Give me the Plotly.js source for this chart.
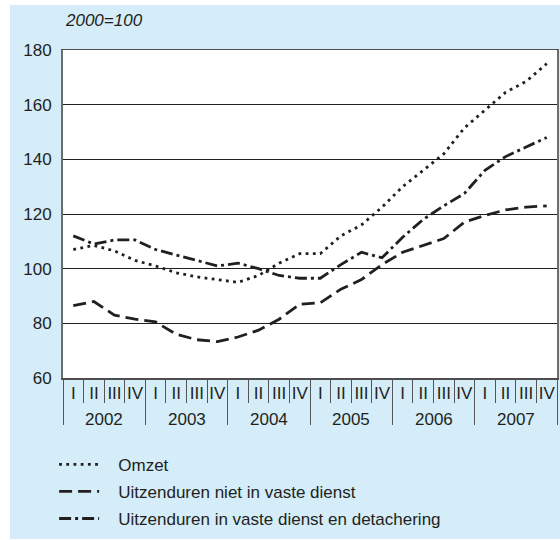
<!DOCTYPE html>
<html>
<head>
<meta charset="utf-8">
<script src="https://cdn.plot.ly/plotly-3.0.1.min.js"></script>
<style>
  html, body { margin: 0; padding: 0; background: #ffffff; }
  #chart { position: absolute; left: 10px; top: 5px; width: 550px; height: 534px; }
</style>
</head>
<body>
<div id="chart"></div>
<script>
// ---- data ----
const years = ['2002', '2003', '2004', '2005', '2006', '2007'];
const quarters = ['I', 'II', 'III', 'IV'];

const omzet = [107, 108.5, 106.5, 103, 101, 98.5, 97, 96, 95, 97.5, 102, 105.5,
               105.5, 112, 116, 122.5, 130, 136, 142, 151.5, 158, 164.5, 168.5, 175];
const nietVast = [86.5, 88, 83, 81.5, 80.5, 76, 74, 73.3, 75, 77.5, 81.5, 87,
                  87.5, 92.5, 96, 101.5, 106, 108.5, 111, 117, 119.5, 121.5, 122.5, 123];
const vastDetach = [112, 109, 110.5, 110.5, 107, 105, 103, 101, 102, 100, 97.5, 96.5,
                    96.5, 101.5, 106, 104, 111.5, 118, 123, 127.5, 136, 141, 144.5, 148];

const seriesNames = ['Omzet', 'Uitzenduren niet in vaste dienst',
                     'Uitzenduren in vaste dienst en detachering'];
const yTicks = [60, 80, 100, 120, 140, 160, 180];

// ---- derived positions (quarter index along the axis) ----
const xIdx = omzet.map((_, i) => i);
const qLabels = xIdx.map(i => quarters[i % 4]);
const qBounds = xIdx.map(i => i - 0.5).concat([xIdx.length - 0.5]);
const yBounds = years.map((_, j) => j * 4 - 0.5).concat([years.length * 4 - 0.5]);
const yCenters = years.map((_, j) => j * 4 + 1.5);

const FONT = 'Liberation Sans, Arial, Helvetica, sans-serif';
const INK = '#231f20';
const BLUE = '#d4edf9';
const FS = 17;
const PAD = '\u00a0\u00a0\u00a0';

const lineBase = { color: INK, width: 2.8 };
const traces = [
  { x: xIdx, y: omzet, name: PAD + seriesNames[0], mode: 'lines', legendgroup: 'a',
    line: Object.assign({}, lineBase, { dash: '2.8px,4.4px' }) },
  { x: xIdx, y: nietVast, name: PAD + seriesNames[1], mode: 'lines', legendgroup: 'b',
    line: Object.assign({}, lineBase, { dash: '13px,6px' }) },
  { x: xIdx, y: vastDetach, name: PAD + seriesNames[2], mode: 'lines', legendgroup: 'c',
    line: Object.assign({}, lineBase, { dash: '12px,4px,3px,4px' }) }
];

const range = [-0.5, xIdx.length - 0.5];

const layout = {
  width: 550, height: 534,
  margin: { l: 53, r: 3, t: 45, b: 160 },
  paper_bgcolor: BLUE,
  plot_bgcolor: '#ffffff',
  font: { family: FONT, size: FS, color: INK },
  showlegend: true,
  legend: {
    x: -0.018, xanchor: 'left', y: -0.206, yanchor: 'top',
    bgcolor: 'rgba(0,0,0,0)', traceorder: 'grouped', tracegroupgap: 2,
    font: { family: FONT, size: FS, color: INK }, itemwidth: 40
  },
  xaxis: {
    range: range, tickmode: 'array', tickvals: xIdx, ticktext: qLabels,
    ticks: '', showgrid: false, zeroline: false,
    showline: true, linecolor: '#4d4d4d', linewidth: 1.5, mirror: true,
    tickfont: { family: FONT, size: FS, color: INK },
    ticklabelstandoff: -1,
    minor: { tickmode: 'array', tickvals: qBounds, ticks: 'outside', ticklen: 23,
             tickcolor: '#555555', tickwidth: 1, showgrid: false }
  },
  xaxis2: {
    overlaying: 'x', anchor: 'y', side: 'bottom', range: range,
    tickmode: 'array', tickvals: yBounds, ticks: 'outside', ticklen: 46,
    tickcolor: '#555555', tickwidth: 1, showticklabels: false,
    showgrid: false, zeroline: false, showline: false
  },
  yaxis: {
    range: [60, 180], tickmode: 'array', tickvals: yTicks,
    showgrid: true, gridcolor: '#231f20', gridwidth: 1, zeroline: false,
    showline: true, linecolor: '#6d6d6d', linewidth: 2, mirror: true,
    ticks: '', ticklabelstandoff: 6,
    tickfont: { family: FONT, size: FS, color: INK }
  },
  annotations: [
    { xref: 'paper', yref: 'paper', x: 0, y: 1.091, xanchor: 'left', yanchor: 'middle',
      text: '<i>2000=100</i>', showarrow: false, font: { family: FONT, size: FS, color: INK } }
  ].concat(years.map((yr, j) => ({
    xref: 'x', yref: 'paper', x: yCenters[j], y: -0.126, xanchor: 'center', yanchor: 'middle',
    text: yr, showarrow: false, font: { family: FONT, size: FS, color: INK }
  })))
};

// invisible anchor trace so the overlay axis (year separators) is drawn
traces.push({ x: [range[0]], y: [60], xaxis: 'x2', yaxis: 'y', mode: 'markers',
              marker: { opacity: 0 }, showlegend: false, hoverinfo: 'skip' });

Plotly.newPlot('chart', traces, layout, { displayModeBar: false, staticPlot: true });
</script>
</body>
</html>
